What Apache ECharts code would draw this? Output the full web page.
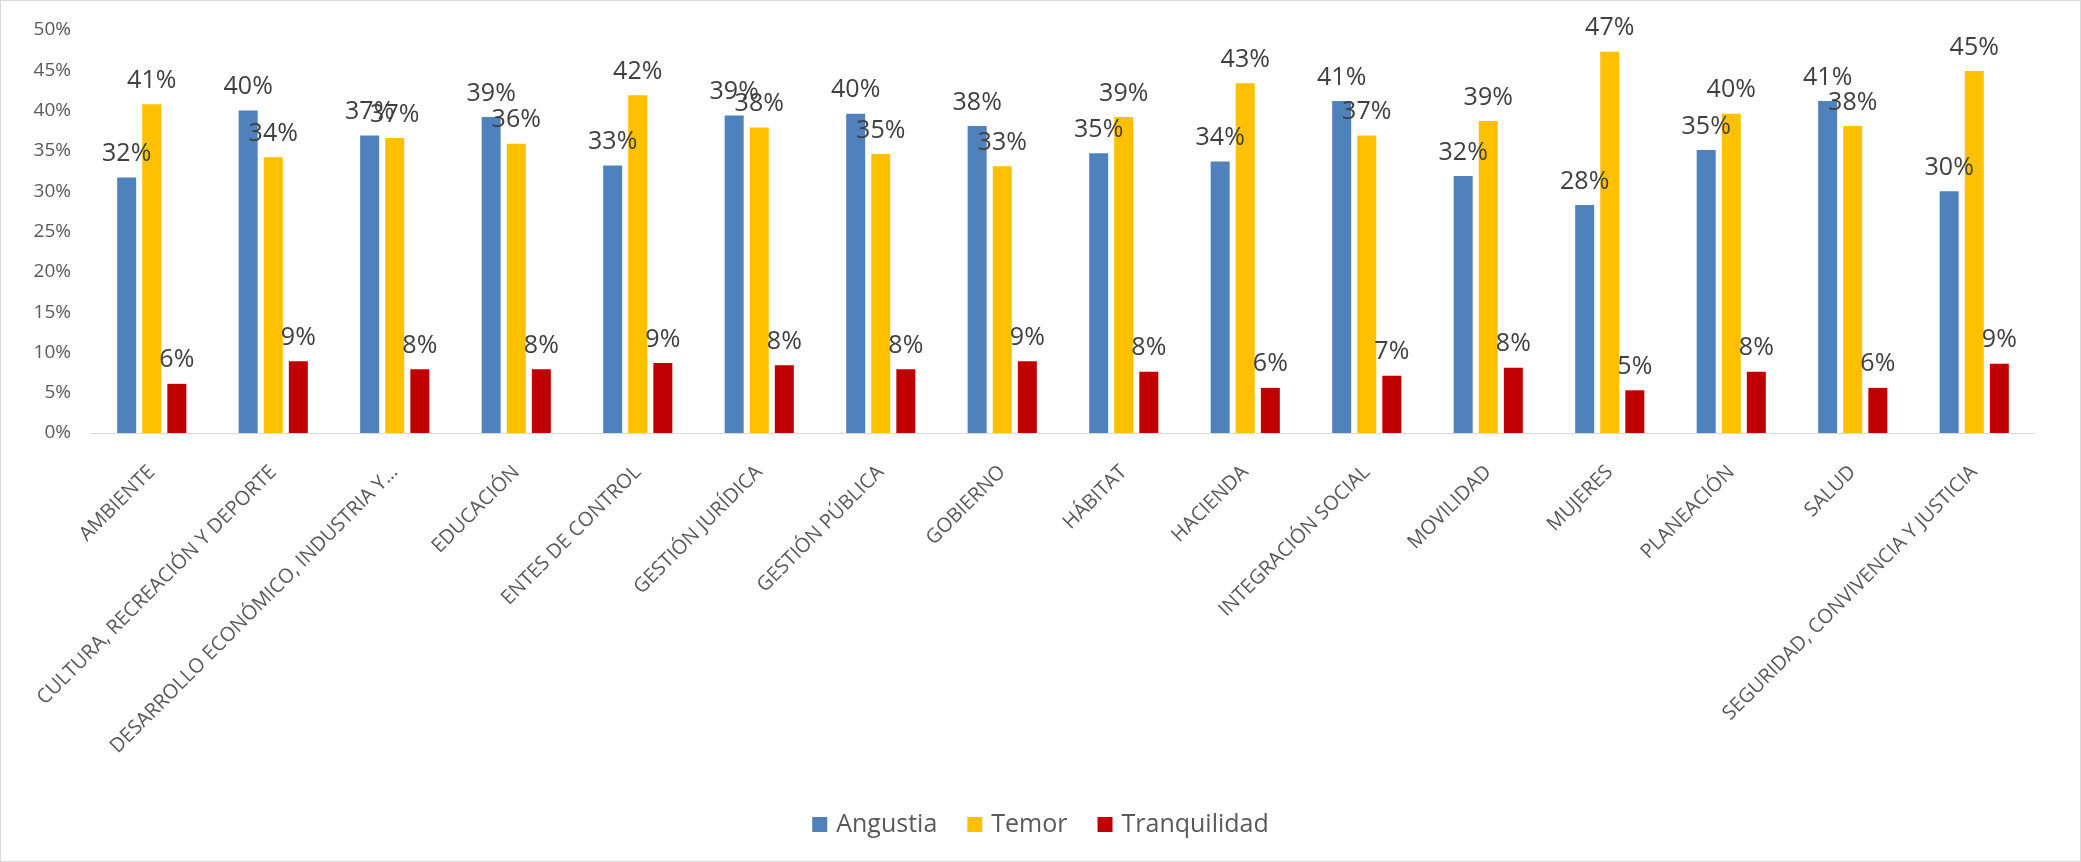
<!DOCTYPE html>
<html>
<head>
<meta charset="utf-8">
<script src="https://cdn.jsdelivr.net/npm/echarts@6/dist/echarts.min.js"></script>
<style>
html,body{margin:0;padding:0;background:#fff;}
#chart{width:2081px;height:862px;box-sizing:border-box;border:1px solid #d9d9d9;}
</style>
</head>
<body>
<div id="chart"></div>
<script>
const categories = ["AMBIENTE","CULTURA, RECREACIÓN Y DEPORTE","DESARROLLO ECONÓMICO, INDUSTRIA Y…","EDUCACIÓN","ENTES DE CONTROL","GESTIÓN JURÍDICA","GESTIÓN PÚBLICA","GOBIERNO","HÁBITAT","HACIENDA","INTEGRACIÓN SOCIAL","MOVILIDAD","MUJERES","PLANEACIÓN","SALUD","SEGURIDAD, CONVIVENCIA Y JUSTICIA"];
const angustia = [31.7,40.0,36.9,39.2,33.2,39.4,39.6,38.1,34.7,33.7,41.2,31.9,28.3,35.1,41.2,30.0];
const temor = [40.8,34.2,36.6,35.9,41.9,37.9,34.6,33.1,39.2,43.4,36.9,38.7,47.3,39.6,38.1,44.9];
const tranquilidad = [6.1,8.9,7.9,7.9,8.7,8.4,7.9,8.9,7.6,5.6,7.1,8.1,5.3,7.6,5.6,8.6];
const seriesNames = ["Angustia","Temor","Tranquilidad"];
const yTicks = [0,5,10,15,20,25,30,35,40,45,50];

const FONT = '"Open Sans",sans-serif';
const colors = ['#4f81bd','#ffc000','#c00000'];
const chart = echarts.init(document.getElementById('chart'));
const mk = (name, data, color) => ({
  name, type:'bar', data, barWidth:19, barGap:'32%',
  itemStyle:{color},
  label:{show:true, position:'top', distance:11, color:'#404040', fontSize:25, fontFamily:FONT,
    formatter: p => Math.round(p.value) + '%'}
});
chart.setOption({
  animation:false,
  textStyle:{fontFamily:FONT},
  grid:{left:90, right:45, top:29, bottom:428, containLabel:false},
  legend:{top:806, left:'center', itemWidth:15, itemHeight:15, itemGap:30, icon:'rect',
    textStyle:{fontSize:25, color:'#595959', fontFamily:FONT, padding:[0,0,0,4]}, data:seriesNames},
  xAxis:{type:'category', data:categories,
    axisLine:{lineStyle:{color:'#d9d9d9', width:1}}, axisTick:{show:false},
    axisLabel:{rotate:45, interval:0, margin:36, fontSize:20, color:'#595959', fontFamily:FONT}},
  yAxis:{type:'value', min:yTicks[0], max:yTicks[yTicks.length-1], interval:5,
    axisLine:{show:false}, axisTick:{show:false}, splitLine:{show:false},
    axisLabel:{formatter: v => v + '%', fontSize:19, color:'#595959', margin:20, fontFamily:FONT}},
  series:[mk(seriesNames[0], angustia, colors[0]), mk(seriesNames[1], temor, colors[1]), mk(seriesNames[2], tranquilidad, colors[2])]
});
</script>
</body>
</html>
